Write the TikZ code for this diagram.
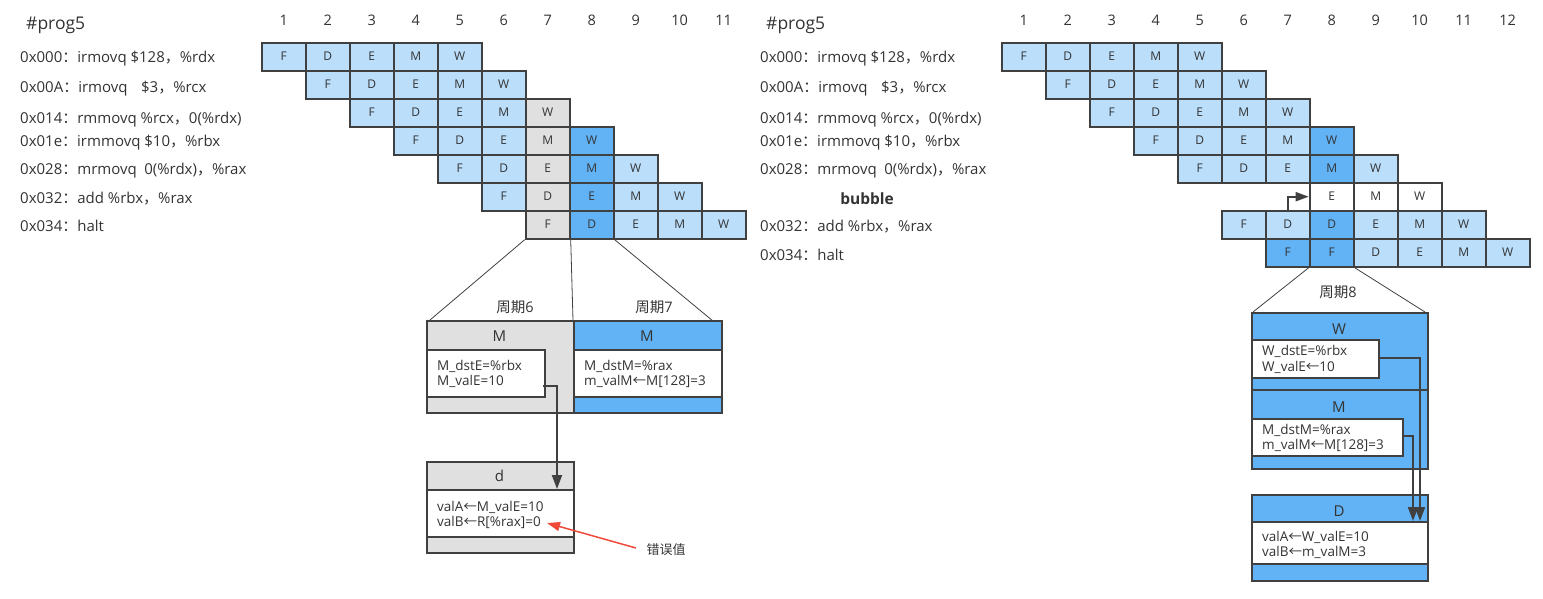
\documentclass[tikz,border=0pt]{standalone}
\usepackage{fontspec}
\setmainfont{Open Sans}
\newfontfamily\cjk{Noto Sans CJK SC}
\usetikzlibrary{arrows.meta}
\definecolor{lb}{HTML}{BBDEFB}
\definecolor{db}{HTML}{62B3F5}
\definecolor{gr}{HTML}{E0E0E0}
\definecolor{bd}{HTML}{404040}
\definecolor{tx}{HTML}{333333}
\definecolor{rd}{HTML}{F04A3A}
\newcommand\fc{{\cjk ：}}
\newcommand\fm{{\cjk ，}}
\newcommand\la{{\cjk ←}}
\tikzset{
 cell/.style={draw=bd, line width=2pt, minimum width=44pt, minimum height=28pt, inner sep=0pt, font=\fontsize{12}{13}\selectfont},
 num/.style={font=\fontsize{14.5}{15}\selectfont, inner sep=0pt},
 instr/.style={anchor=west, inner sep=0pt, font=\fontsize{15}{16}\selectfont},
 outbox/.style={draw=bd, line width=2pt, anchor=north west, inner sep=0pt},
 band/.style={draw=bd, line width=2pt, fill=white, anchor=north west, inner sep=0pt},
 btitle/.style={font=\fontsize{15}{16}\selectfont, inner sep=0pt},
 btext/.style={anchor=west, align=left, inner sep=0pt, font=\fontsize{13.5}{15.5}\selectfont},
 zoomline/.style={draw=bd, line width=0.8pt},
 conn/.style={draw=bd, line width=2pt, -{Triangle[length=14pt,width=10pt]}},
 err/.style={draw=rd, line width=1.5pt, -{Triangle[length=13pt,width=9pt]}},
}
\begin{document}
\begin{tikzpicture}[x=1pt,y=-1pt,text=tx]
\useasboundingbox (0,0) rectangle (1543,598);
% ---------------- left half ----------------
\node[instr, font=\fontsize{17.5}{18}\selectfont] (Lp) at (26,25) {\#prog5};
\node[instr] (Li1) at (20,59) {0x000\fc irmovq \$128\fm\%rdx};
\node[instr] (Li2) at (20,89) {0x00A\fc irmovq\hspace{0.9em}\$3\fm\%rcx};
\node[instr] (Li3) at (20,120) {0x014\fc rmmovq \%rcx\fm 0(\%rdx)};
\node[instr] (Li4) at (20,143) {0x01e\fc irmmovq \$10\fm\%rbx};
\node[instr] (Li5) at (20,171) {0x028\fc mrmovq\hspace{0.5em}0(\%rdx)\fm\%rax};
\node[instr] (Li6) at (20,199) {0x032\fc add \%rbx\fm\%rax};
\node[instr] (Li7) at (20,226) {0x034\fc halt};
\foreach \k in {1,...,11}{
  \node[num] (Ln\k) at ({283.7+44*(\k-1)},20) {\k};
}
\foreach \r/\s/\cl in {
 1/1/{F/lb,D/lb,E/lb,M/lb,W/lb},
 2/2/{F/lb,D/lb,E/lb,M/lb,W/lb},
 3/3/{F/lb,D/lb,E/lb,M/lb,W/gr},
 4/4/{F/lb,D/lb,E/lb,M/gr,W/db},
 5/5/{F/lb,D/lb,E/gr,M/db,W/lb},
 6/6/{F/lb,D/gr,E/db,M/lb,W/lb},
 7/7/{F/gr,D/db,E/lb,M/lb,W/lb}}{
  \foreach \t/\f [count=\i from 0] in \cl {
    \pgfmathtruncatemacro\c{\s+\i}
    \node[cell, fill=\f] (L\r-\c) at ({261.7+44*(\c-0.5)},{42.7+28*(\r-0.5)}) {\t};
  }
}
% zoom lines
\coordinate (Lz1) at (430,320);
\coordinate (Lz2) at (573,320);
\coordinate (Lz3) at (719,326);
\draw[zoomline] (L7-7.south west) -- (Lz1);
\draw[zoomline] (L7-7.south east) -- (Lz2);
\draw[zoomline] (L7-8.south east) -- (Lz3);
\node[num] (Lc6) at (515,307) {{\cjk 周期}6};
\node[num] (Lc7) at (654,307) {{\cjk 周期}7};
% cycle 6 M box
\node[outbox, fill=gr, minimum width=147pt, minimum height=92pt] (m6) at (426,320) {};
\node[btitle] (m6t) at (499.5,336) {M};
\node[band, minimum width=118pt, minimum height=47pt] (m6i) at (426,349) {};
\node[btext] (m6x) at (437,374) {M\_dstE=\%rbx\\M\_valE=10};
% cycle 7 M box
\node[outbox, fill=db, minimum width=148pt, minimum height=92pt] (m7) at (573,320) {};
\node[btitle] (m7t) at (647,336) {M};
\node[band, minimum width=148pt, minimum height=47pt] (m7i) at (573,349) {};
\node[btext] (m7x) at (584,374) {M\_dstM=\%rax\\m\_valM\la M[128]=3};
% d box
\node[outbox, fill=gr, minimum width=147pt, minimum height=91pt] (dd) at (426,461) {};
\node[btitle] (ddt) at (499.5,476) {d};
\node[band, minimum width=147pt, minimum height=47pt] (ddi) at (426,489) {};
\node[btext] (ddx) at (437,515) {valA\la M\_valE=10\\valB\la R[\%rax]=0};
% forwarding arrow
\coordinate (La1) at (543,386);
\coordinate (La2) at (557,489);
\draw[conn] (La1) -| (La2);
% error arrow
\coordinate (Le1) at (636,548);
\coordinate (Le2) at (547,523);
\draw[err] (Le1) -- (Le2);
\node[num, font=\cjk\fontsize{13}{14}\selectfont] (Let) at (666,550) {错误值};
% ---------------- right half ----------------
\node[instr, font=\fontsize{17.5}{18}\selectfont] (Rp) at (766,25) {\#prog5};
\node[instr] (Ri1) at (760,59) {0x000\fc irmovq \$128\fm\%rdx};
\node[instr] (Ri2) at (760,89) {0x00A\fc irmovq\hspace{0.9em}\$3\fm\%rcx};
\node[instr] (Ri3) at (760,120) {0x014\fc rmmovq \%rcx\fm 0(\%rdx)};
\node[instr] (Ri4) at (760,143) {0x01e\fc irmmovq \$10\fm\%rbx};
\node[instr] (Ri5) at (760,171) {0x028\fc mrmovq\hspace{0.5em}0(\%rdx)\fm\%rax};
\node[num, font=\bfseries\fontsize{15.5}{16}\selectfont] (Rb) at (867,199) {bubble};
\node[instr] (Ri6) at (760,227) {0x032\fc add \%rbx\fm\%rax};
\node[instr] (Ri7) at (760,255) {0x034\fc halt};
\foreach \k in {1,...,12}{
  \node[num] (Rn\k) at ({1023.7+44*(\k-1)},20) {\k};
}
\foreach \r/\s/\cl in {
 1/1/{F/lb,D/lb,E/lb,M/lb,W/lb},
 2/2/{F/lb,D/lb,E/lb,M/lb,W/lb},
 3/3/{F/lb,D/lb,E/lb,M/lb,W/lb},
 4/4/{F/lb,D/lb,E/lb,M/lb,W/db},
 5/5/{F/lb,D/lb,E/lb,M/db,W/lb},
 6/8/{E/white,M/white,W/white},
 7/6/{F/lb,D/lb,D/db,E/lb,M/lb,W/lb},
 8/7/{F/db,F/db,D/lb,E/lb,M/lb,W/lb}}{
  \foreach \t/\f [count=\i from 0] in \cl {
    \pgfmathtruncatemacro\c{\s+\i}
    \node[cell, fill=\f] (R\r-\c) at ({1001.7+44*(\c-0.5)},{42.7+28*(\r-0.5)}) {\t};
  }
}
\draw[conn, -{Triangle[length=13pt,width=9pt]}] (R7-7.north) |- (R6-8.west);
% zoom lines
\coordinate (Rz1) at (1253,312);
\coordinate (Rz2) at (1425,312);
\draw[zoomline] (R8-8.south west) -- (Rz1);
\draw[zoomline] (R8-8.south east) -- (Rz2);
\node[num] (Rc8) at (1338,292) {{\cjk 周期}8};
% W box
\node[outbox, fill=db, minimum width=176pt, minimum height=77pt] (wb) at (1251,312) {};
\node[btitle] (wbt) at (1339,329) {W};
\node[band, minimum width=127pt, minimum height=38pt] (wbi) at (1251,339) {};
\node[btext] (wbx) at (1262,359.5) {W\_dstE=\%rbx\\W\_valE\la 10};
% M box
\node[outbox, fill=db, minimum width=176pt, minimum height=79pt] (mb) at (1251,389) {};
\node[btitle] (mbt) at (1339,407) {M};
\node[band, minimum width=151pt, minimum height=37pt] (mbi) at (1251,418) {};
\node[btext] (mbx) at (1262,438) {M\_dstM=\%rax\\m\_valM\la M[128]=3};
% D box
\node[outbox, fill=db, minimum width=176pt, minimum height=86pt] (db) at (1251,494) {};
\node[btitle] (dbt) at (1339,511) {D};
\node[band, minimum width=176pt, minimum height=42pt] (dbi) at (1251,521) {};
\node[btext] (dbx) at (1262,545) {valA\la W\_valE=10\\valB\la m\_valM=3};
% forwarding arrows
\coordinate (Ra1) at (1378,358);
\coordinate (Ra2) at (1420,521);
\coordinate (Rb1) at (1402,436);
\coordinate (Rb2) at (1413,521);
\draw[conn] (Ra1) -| (Ra2);
\draw[conn] (Rb1) -| (Rb2);
\end{tikzpicture}
\end{document}
